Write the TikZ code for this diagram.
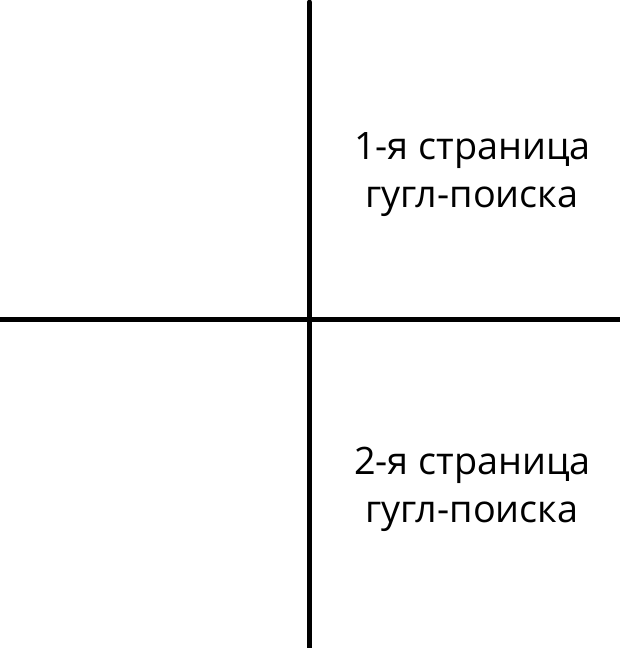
\documentclass[tikz,border=0pt]{standalone}
\usepackage{fontspec}
\setmainfont{Open Sans}
\tikzset{
  axisline/.style={line width=4.5pt, black},
  lbl/.style={anchor=base, inner sep=0pt, font=\fontsize{37.8}{44}\selectfont}
}
\begin{document}
\begin{tikzpicture}[x=1pt,y=1pt]
\useasboundingbox (0,0) rectangle (620,648);
\coordinate (vtop) at (309.5,646);
\coordinate (vbot) at (309.5,0);
\coordinate (hl) at (0,328.5);
\coordinate (hr) at (620,328.5);
\draw[axisline, line cap=round] (vbot) -- (vtop);
\draw[axisline] (hl) -- (hr);
\node[lbl] (t1a) at (472.5,488) {1-я страница};
\node[lbl] (t1b) at (472,440) {гугл-поиска};
\node[lbl] (t2a) at (472.5,173) {2-я страница};
\node[lbl] (t2b) at (472,125) {гугл-поиска};
\end{tikzpicture}
\end{document}
